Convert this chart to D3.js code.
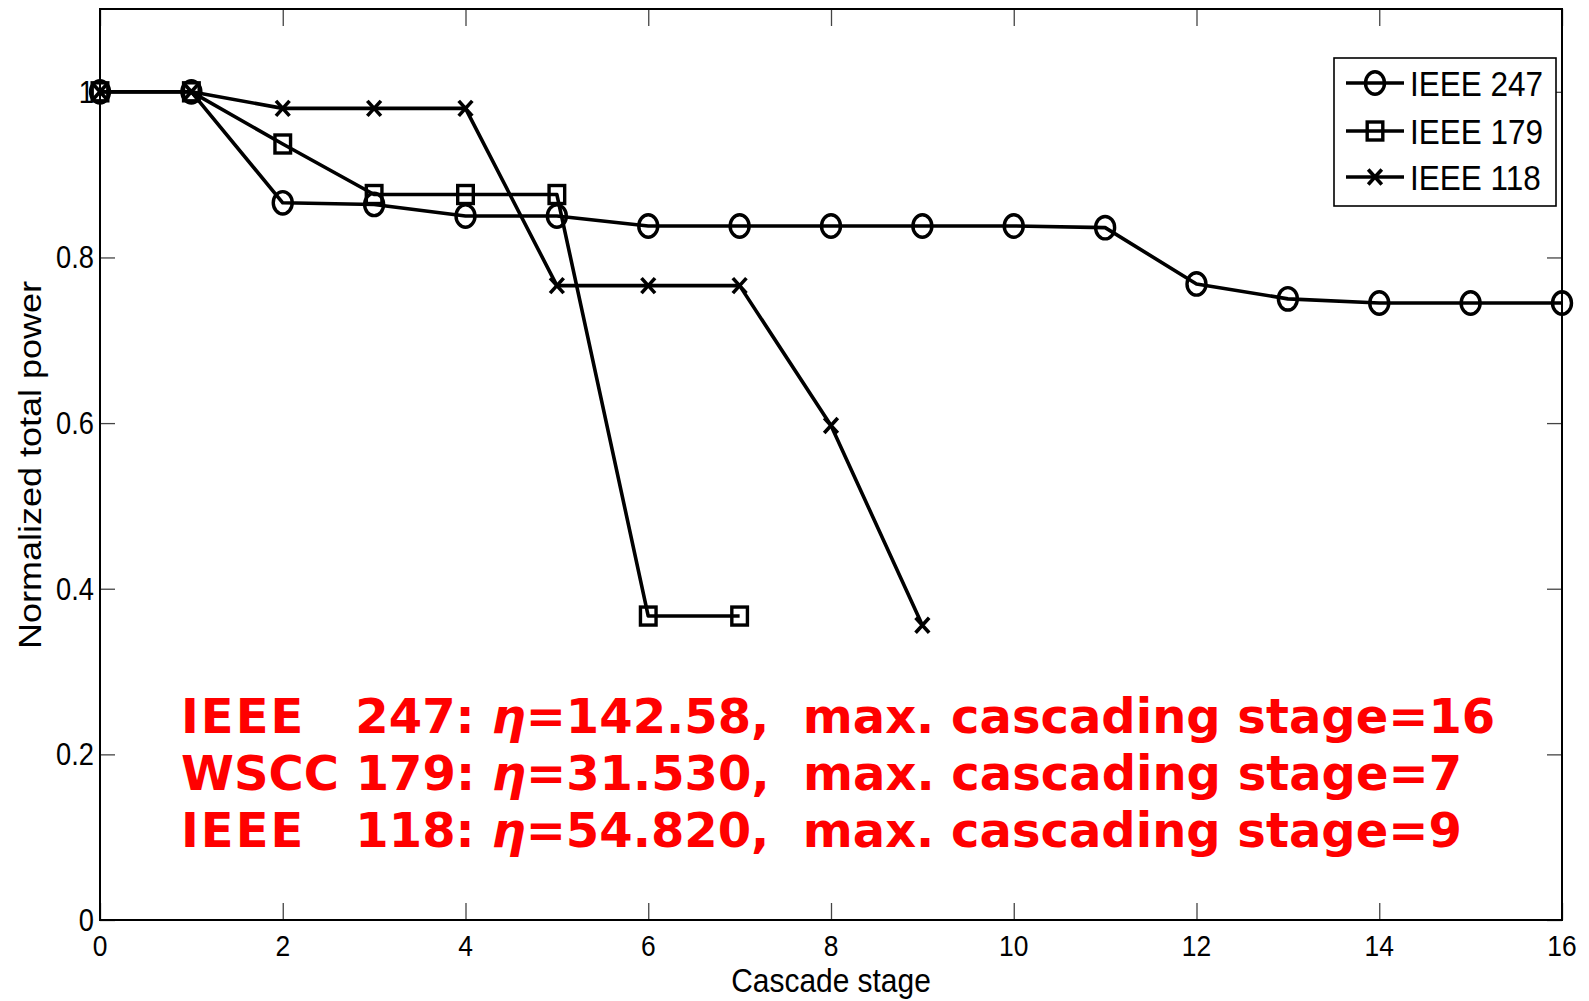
<!DOCTYPE html>
<html>
<head>
<meta charset="utf-8">
<script src="https://cdn.jsdelivr.net/npm/d3@7"></script>
<style>
  body { margin: 0; background: #fff; }
  text { font-family: "Liberation Sans", Arial, sans-serif; }
  .note { font-family: "DejaVu Sans", Verdana, sans-serif; font-weight: bold; white-space: pre; }
</style>
</head>
<body>
<svg id="canvas" width="1589" height="1001"></svg>
<script>
// cascade stages and normalized total power per system
let stages = d3.range(0, 17)
let ieee247 = [1, 1, 0.866, 0.864, 0.850, 0.850, 0.838, 0.838, 0.838, 0.838, 0.838, 0.836, 0.768, 0.750, 0.745, 0.745, 0.745]
let ieee179 = [1, 1, 0.937, 0.876, 0.876, 0.876, 0.367, 0.367]
let ieee118 = [1, 1, 0.980, 0.980, 0.980, 0.766, 0.766, 0.766, 0.597, 0.356]

let seriesNames = ['IEEE 247', 'IEEE 179', 'IEEE 118']
let seriesMarkers = ['circle', 'square', 'cross']
let xTicks = [0, 2, 4, 6, 8, 10, 12, 14, 16]
let yTicks = [0, 0.2, 0.4, 0.6, 0.8, 1]
let noteSystems = ['IEEE', 'WSCC', 'IEEE']
let noteBuses = ['   247: ', ' 179: ', '   118: ']
let noteEta = ['142.58', '31.530', '54.820']
let noteStages = [16, 7, 9]

let canvas = d3.select('#canvas')
let plotLeft = 100, plotRight = 1562, plotTop = 9, plotBottom = 920
let squeeze = 0.88   // the original figure was stretched vertically

let xScale = d3.scaleLinear().domain([0, 16]).range([plotLeft, plotRight])
let yScale = d3.scaleLinear().domain([0, 1.1]).range([plotBottom, plotTop])

// ticks inside the box, on all four sides
let xAxisB = d3.axisBottom(xScale).tickValues(xTicks).tickSize(-17).tickFormat('')
let xAxisT = d3.axisTop(xScale).tickValues(xTicks).tickSize(-17).tickFormat('')
let yAxisL = d3.axisLeft(yScale).tickValues(yTicks).tickSize(-15).tickFormat('')
let yAxisR = d3.axisRight(yScale).tickValues(yTicks).tickSize(-15).tickFormat('')

let styleAxis = (g) => {
    g.select('.domain').remove()
    g.selectAll('line').attr('stroke', '#444').attr('stroke-width', 1.3)
}
canvas.append('g').attr('transform', `translate(0,${plotBottom})`).call(xAxisB).call(styleAxis)
canvas.append('g').attr('transform', `translate(0,${plotTop})`).call(xAxisT).call(styleAxis)
canvas.append('g').attr('transform', `translate(${plotLeft},0)`).call(yAxisL).call(styleAxis)
canvas.append('g').attr('transform', `translate(${plotRight},0)`).call(yAxisR).call(styleAxis)

canvas.append('rect')
    .attr('x', plotLeft).attr('y', plotTop)
    .attr('width', plotRight - plotLeft).attr('height', plotBottom - plotTop)
    .attr('fill', 'none').attr('stroke', '#000').attr('stroke-width', 2)

// tick labels
canvas.selectAll('.xlab')
    .data(xTicks)
    .enter()
    .append('text')
    .attr('transform', (d) => `translate(${xScale(d)},956) scale(${squeeze},1)`)
    .attr('text-anchor', 'middle')
    .attr('font-size', 30)
    .text((d) => d)

canvas.selectAll('.ylab')
    .data(yTicks)
    .enter()
    .append('text')
    .attr('transform', (d) => `translate(94,${yScale(d) + 11}) scale(${squeeze},1)`)
    .attr('text-anchor', 'end')
    .attr('font-size', 31)
    .text((d) => d)

canvas.append('text')
    .attr('transform', `translate(831,992) scale(${squeeze},1)`)
    .attr('text-anchor', 'middle')
    .attr('font-size', 34)
    .text('Cascade stage')

canvas.append('text')
    .attr('transform', `translate(41,465) rotate(-90) scale(1,${squeeze})`)
    .attr('text-anchor', 'middle')
    .attr('font-size', 36)
    .text('Normalized total power')

// markers are drawn a bit taller than wide, like the stretched original
let drawMarker = (g, type, cx, cy) => {
    if (type === 'circle') {
        g.append('ellipse').attr('cx', cx).attr('cy', cy).attr('rx', 9.5).attr('ry', 11.2)
            .attr('fill', 'none').attr('stroke', '#000').attr('stroke-width', 3.4)
    } else if (type === 'square') {
        g.append('rect').attr('x', cx - 7.8).attr('y', cy - 9).attr('width', 15.6).attr('height', 18)
            .attr('fill', 'none').attr('stroke', '#000').attr('stroke-width', 3.4)
    } else {
        g.append('path')
            .attr('d', `M${cx - 6.8},${cy - 7.5}L${cx + 6.8},${cy + 7.5}M${cx - 6.8},${cy + 7.5}L${cx + 6.8},${cy - 7.5}`)
            .attr('stroke', '#000').attr('stroke-width', 3.6)
    }
}

let line = d3.line()
    .x((d, i) => xScale(stages[i]))
    .y((d) => yScale(d))

let allSeries = [ieee247, ieee179, ieee118]
allSeries.forEach((values, k) => {
    let g = canvas.append('g')
    g.append('path')
        .attr('d', line(values))
        .attr('fill', 'none')
        .attr('stroke', '#000')
        .attr('stroke-width', 3.6)
        .attr('stroke-linejoin', 'round')
    values.forEach((v, i) => {
        drawMarker(g, seriesMarkers[k], xScale(stages[i]), yScale(v))
    })
})

// legend
let legend = canvas.append('g')
legend.append('rect')
    .attr('x', 1334).attr('y', 58).attr('width', 222).attr('height', 148)
    .attr('fill', '#fff').attr('stroke', '#000').attr('stroke-width', 1.6)
let legendY = [83, 131, 177]
seriesNames.forEach((name, k) => {
    legend.append('line')
        .attr('x1', 1346).attr('x2', 1404)
        .attr('y1', legendY[k]).attr('y2', legendY[k])
        .attr('stroke', '#000').attr('stroke-width', 3.6)
    drawMarker(legend, seriesMarkers[k], 1375, legendY[k])
    legend.append('text')
        .attr('transform', `translate(1410,${legendY[k] + 13}) scale(0.9,1)`)
        .attr('font-size', 35)
        .text(name)
})

// red annotation
let noteY = [733, 790, 847]
noteSystems.forEach((sys, k) => {
    let t = canvas.append('text')
        .attr('class', 'note')
        .attr('x', 181).attr('y', noteY[k])
        .attr('font-size', 48)
        .attr('fill', '#ff0000')
    t.append('tspan').attr('letter-spacing', sys === 'IEEE' ? 2 : 0).text(sys)
    t.append('tspan').text(noteBuses[k])
    t.append('tspan').attr('font-style', 'italic').text('\u03b7')
    t.append('tspan').text('=' + noteEta[k] + ',  max. cascading stage=' + noteStages[k])
})
</script>
</body>
</html>
